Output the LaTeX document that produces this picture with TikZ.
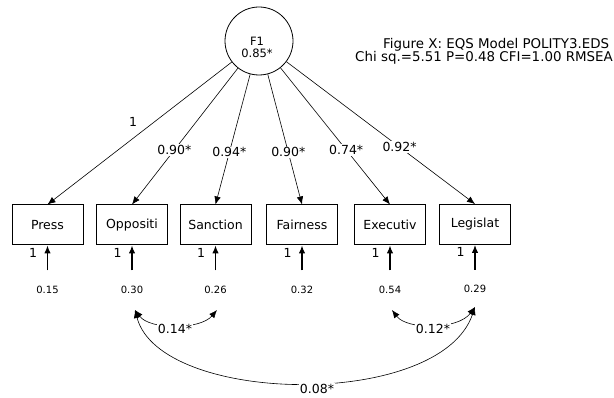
\documentclass[tikz,border=0pt]{standalone}
\usepackage{fontspec}
\setmainfont{DejaVu Sans}
\usetikzlibrary{arrows.meta}
\begin{document}
\begin{tikzpicture}[x=1pt,y=-1pt,
  every node/.style={font=\fontsize{12.5}{14}\selectfont, inner sep=1pt},
  obs/.style={draw, line width=1pt, minimum width=71pt, minimum height=40pt, inner sep=0pt},
  lat/.style={draw, circle, line width=0.8pt, minimum size=68pt, inner sep=0pt},
  load/.style={-{Latex[length=8pt,width=6.5pt]}, line width=0.6pt},
  err/.style={-{Latex[length=8pt,width=6.5pt]}, line width=1.2pt},
  cov/.style={{Latex[length=8pt,width=6.5pt]}-{Latex[length=8pt,width=6.5pt]}, line width=0.6pt},
  lbl/.style={fill=white, inner sep=1pt},
  small/.style={font=\fontsize{10}{12}\selectfont},
  ttl/.style={font=\fontsize{13.4}{15}\selectfont, anchor=west, inner sep=0pt},
]
\useasboundingbox (0,0) rectangle (614,398);
% latent factor
\node[lat] (F1) at (259,41) {};
\node[font=\fontsize{11.5}{12.5}\selectfont, align=center, inner sep=0pt] (F1t) at (257,47.5) {F1\\0.85*};
% title
\node[ttl] (t1) at (383,45) {Figure X: EQS Model POLITY3.EDS};
\node[ttl] (t2) at (355,58) {Chi sq.=5.51 P=0.48 CFI=1.00 RMSEA=};
% observed variables
\node[obs] (press) at (47.5,225) {Press};
\node[obs] (oppositi) at (132,225) {Oppositi};
\node[obs] (sanction) at (215.5,225) {Sanction};
\node[obs] (fairness) at (302,225) {Fairness};
\node[obs] (executiv) at (390,225) {Executiv};
\node[obs] (legislat) at (475,224.5) {Legislat};
% loadings
\draw[load] (F1) -- (press.north);
\node (l1) at (133,122) {1};
\draw[load] (F1) -- node[lbl,pos=0.6] (l2) {0.90*} (oppositi.north);
\draw[load] (F1) -- node[lbl,pos=0.6] (l3) {0.94*} (sanction.north);
\draw[load] (F1) -- node[lbl,pos=0.6] (l4) {0.90*} (fairness.north);
\draw[load] (F1) -- node[lbl,pos=0.6] (l5) {0.74*} (executiv.north);
\draw[load] (F1) -- node[lbl,pos=0.6] (l6) {0.92*} (legislat.north);
% error terms
\foreach \b/\v/\n in {press/0.15/e1, oppositi/0.30/e2, sanction/0.26/e3, fairness/0.32/e4, executiv/0.54/e5, legislat/0.29/e6}{
  \node[small] (\n) at ([yshift=-44pt]\b.south) {\v};
  \coordinate (\n t) at ([yshift=-25pt]\b.south);
  \draw[err] (\n t) -- (\b.south);
  \node (\n one) at ([xshift=-14.5pt,yshift=-7pt]\b.south) {1};
}
% covariances
\coordinate (c2) at (135,310);
\coordinate (c3) at (217,310);
\coordinate (c5) at (392,310);
\coordinate (c6) at (475,307);
\draw[cov] (c2) .. controls (150,330) and (200,330) .. (c3);
\node[lbl] (k1) at (175,329) {0.14*};
\draw[cov] (c5) .. controls (407,330) and (458,330) .. (c6);
\node[lbl] (k2) at (433,329) {0.12*};
\draw[cov] (c2) .. controls (160,405) and (440,410) .. (c6);
\node[lbl] (k3) at (317,389) {0.08*};
\end{tikzpicture}
\end{document}
